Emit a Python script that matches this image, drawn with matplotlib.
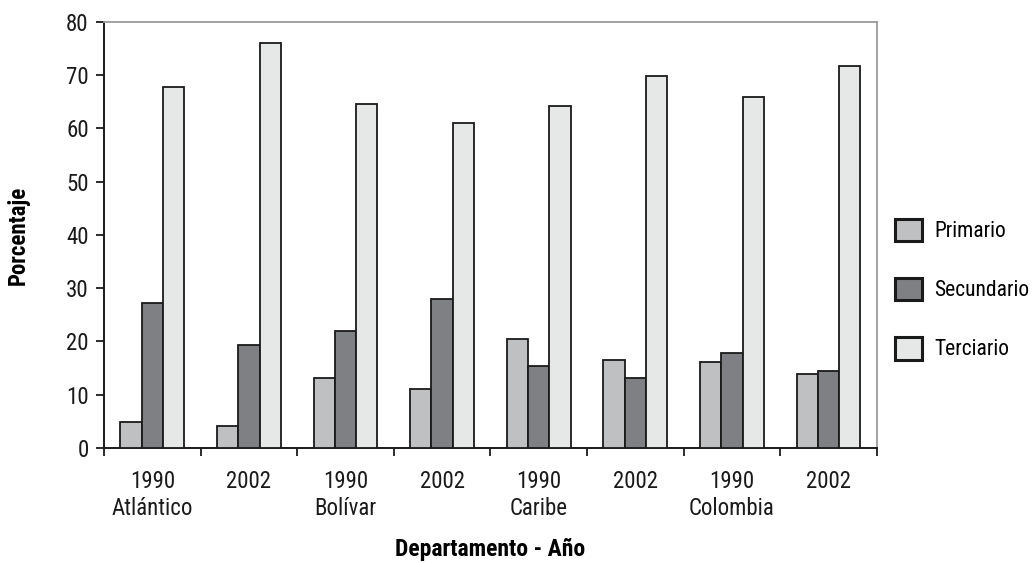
import matplotlib
matplotlib.use("Agg")
import matplotlib.pyplot as plt
from matplotlib import font_manager
from matplotlib.patches import Patch
import numpy as np

categories = ["1990\nAtlántico", "2002", "1990\nBolívar", "2002",
              "1990\nCaribe", "2002", "1990\nColombia", "2002"]
series_names = ["Primario", "Secundario", "Terciario"]
primario = [4.9, 4.2, 13.2, 11.1, 20.4, 16.5, 16.2, 13.9]
secundario = [27.2, 19.4, 21.9, 28.0, 15.4, 13.2, 17.9, 14.4]
terciario = [67.8, 76.1, 64.6, 61.0, 64.2, 69.9, 66.0, 71.8]
yticks = [0, 10, 20, 30, 40, 50, 60, 70, 80]
colors = ["#bfc0c2", "#7f8084", "#e6e7e7"]

avail = {f.name for f in font_manager.fontManager.ttflist}
fam = None
for cand in ["Roboto Condensed", "Liberation Sans Narrow", "DejaVu Sans Condensed",
             "Open Sans Condensed", "Roboto", "Liberation Sans"]:
    if cand in avail:
        fam = cand
        break
plt.rcParams['font.family'] = [fam, 'DejaVu Sans'] if fam else ['DejaVu Sans']

fig = plt.figure(figsize=(10.34, 5.63), dpi=100)
ax = fig.add_axes([0.1006, 0.2043, 0.848 - 0.1006, 0.961 - 0.2043])

x = np.arange(len(categories))
w = 0.22
data = [primario, secundario, terciario]
for i, (vals, c, name) in enumerate(zip(data, colors, series_names)):
    ax.bar(x + (i - 1) * w, vals, width=w, color=c, edgecolor="#1a1a1a",
           linewidth=1.3, label=name, zorder=3)

ax.set_xlim(-0.5, len(categories) - 0.5)
ax.set_ylim(0, 80)
ax.set_yticks(yticks)
fs = 16.5
ax.set_yticklabels([str(t) for t in yticks], fontsize=fs, color="#1a1a1a")
ax.set_xticks(x)
ax.set_xticklabels(categories, fontsize=fs, color="#1a1a1a", linespacing=1.2)
ax.set_xticks(np.arange(-0.5, len(categories), 1.0), minor=True)
ax.tick_params(axis='x', which='major', length=0, pad=16)
ax.tick_params(axis='x', which='minor', length=6, width=1.3, direction='out', color="#1a1a1a")
ax.tick_params(axis='y', length=6, width=1.3, direction='out', color="#1a1a1a", pad=5)

for s in ["left", "bottom"]:
    ax.spines[s].set_color("#1a1a1a")
    ax.spines[s].set_linewidth(1.4)
for s in ["top", "right"]:
    ax.spines[s].set_color("#9a9a9a")
    ax.spines[s].set_linewidth(1.3)

ax.set_ylabel("Porcentaje", fontsize=fs, fontweight="bold", labelpad=26)
ax.set_xlabel("Departamento - Año", fontsize=fs + 0.5, fontweight="bold", labelpad=13)

handles = [Patch(facecolor=c, edgecolor="#1a1a1a", linewidth=2.2) for c in colors]
leg = ax.legend(handles, series_names, loc="center left", bbox_to_anchor=(1.013, 0.372),
                frameon=False, fontsize=15.5, handlelength=1.25, handleheight=1.25,
                labelspacing=1.65, handletextpad=0.55, borderaxespad=0)

fig.savefig("out.png", dpi=100)
print(fam)
